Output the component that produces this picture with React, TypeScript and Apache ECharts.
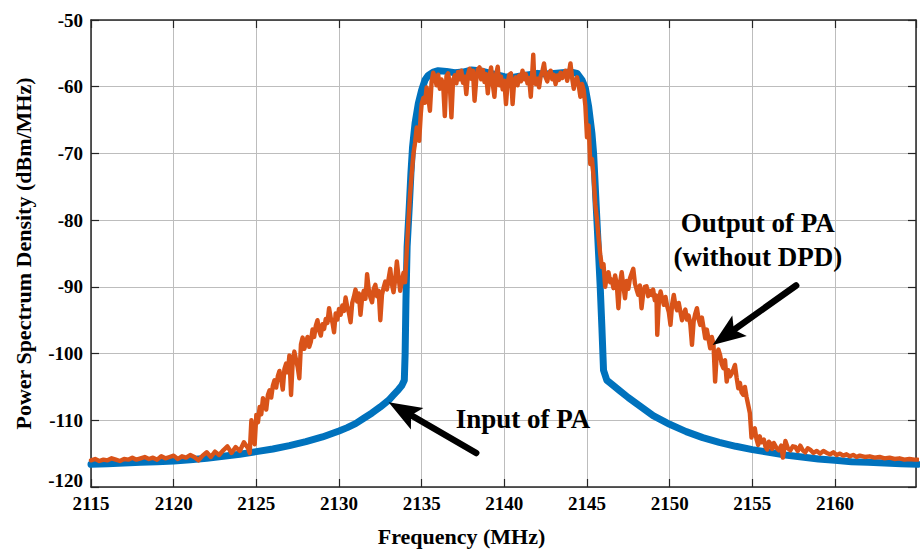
import React, { useEffect, useRef } from "react";
import * as echarts from "echarts";

const FONT = '"Liberation Serif", "Times New Roman", serif';

// Input of PA (blue) — frequency (MHz) and PSD (dBm/MHz)
const inputFreq = [
  2115, 2116, 2117, 2118, 2119, 2120, 2121, 2122, 2123, 2124, 2125, 2126, 2127, 2128, 2129, 2130,
  2130.5, 2131, 2131.5, 2132, 2132.5, 2133, 2133.3, 2133.6, 2133.8, 2133.95, 2134.0, 2134.05,
  2134.12, 2134.25, 2134.35, 2134.45, 2134.6, 2134.8, 2135.0, 2135.2, 2135.4, 2135.7, 2136,
  2136.5, 2137, 2137.5, 2138, 2138.5, 2139, 2139.5, 2140, 2140.5, 2141, 2141.5, 2142, 2142.5,
  2143, 2143.5, 2144, 2144.4, 2144.7, 2144.9, 2145.1, 2145.3, 2145.4, 2145.5, 2145.6, 2145.7,
  2145.8, 2145.9, 2146.0, 2146.2, 2146.5, 2147, 2147.5, 2148, 2149, 2150, 2151, 2152, 2153,
  2154, 2155, 2156, 2157, 2158, 2159, 2160, 2161, 2162, 2163, 2164, 2165,
];
const inputPsd = [
  -116.6, -116.5, -116.4, -116.3, -116.2, -116.1, -115.9, -115.7, -115.4, -115.1, -114.7, -114.3,
  -113.8, -113.2, -112.5, -111.6, -111.1, -110.5, -109.7, -108.9, -108.0, -107.0, -106.2, -105.4,
  -104.8, -104.0, -100, -92, -84, -78, -73, -69, -65.5, -62.5, -60.5, -59.0, -58.3, -57.8, -57.6,
  -57.7, -57.9, -57.8, -57.5, -57.6, -57.9, -58.2, -58.5, -58.6, -58.4, -58.2, -58.0, -58.1,
  -58.0, -57.9, -57.8, -58.0, -59.0, -60.2, -63, -67, -70, -75, -80, -85,
  -90, -96, -102.5, -104.0, -104.6, -105.6, -106.6, -107.5, -109.3, -110.6, -111.7, -112.6, -113.3,
  -113.9, -114.4, -114.8, -115.2, -115.5, -115.8, -116.0, -116.2, -116.3, -116.4, -116.5, -116.6,
];

// Output of PA without DPD (orange), as [frequency, PSD] pairs, by spectral region
const outputLowerFloor = [
  [2115.0, -116.0], [2115.25, -115.8], [2115.5, -116.1], [2115.75, -115.9], [2116.0, -116.0],
  [2116.25, -115.7], [2116.5, -115.9], [2116.75, -116.1], [2117.0, -115.8], [2117.25, -115.9],
  [2117.5, -115.6], [2117.75, -115.9], [2118.0, -115.7], [2118.25, -115.5], [2118.5, -115.8],
  [2118.75, -115.6], [2119.0, -115.9], [2119.25, -115.4], [2119.5, -115.7], [2119.75, -115.5],
  [2120.0, -115.3], [2120.25, -115.8], [2120.5, -115.4], [2120.75, -115.6], [2121.0, -115.2],
  [2121.25, -115.5], [2121.5, -116.0], [2121.75, -115.3], [2122.0, -114.8], [2122.25, -115.5],
  [2122.5, -114.7], [2122.75, -115.2], [2123.0, -114.5], [2123.25, -113.9], [2123.5, -114.9],
  [2123.75, -114.0], [2124.0, -114.6], [2124.25, -113.3], [2124.5, -114.2], [2124.6, -114.9],
];
const outputLowerShoulder = [
  [2124.7, -110.0], [2124.8, -112.5], [2124.9, -113.6], [2125.0, -109.2], [2125.1, -110.3],
  [2125.2, -108.0], [2125.3, -109.1], [2125.4, -106.7], [2125.5, -107.5], [2125.6, -108.4],
  [2125.7, -106.2], [2125.8, -105.5], [2125.9, -106.6], [2126.0, -104.8], [2126.1, -104.0],
  [2126.2, -105.1], [2126.3, -103.4], [2126.4, -102.6], [2126.5, -103.8], [2126.6, -105.4],
  [2126.7, -102.3], [2126.8, -101.5], [2126.9, -102.8], [2127.0, -100.3], [2127.1, -106.2],
  [2127.2, -101.2], [2127.3, -99.7], [2127.4, -100.9], [2127.5, -102.0], [2127.6, -103.7],
  [2127.7, -98.6], [2127.8, -97.6], [2127.9, -99.3], [2128.0, -98.4], [2128.1, -97.5],
  [2128.2, -99.0], [2128.3, -98.2], [2128.4, -96.4], [2128.5, -97.5], [2128.6, -95.8],
  [2128.7, -95.0], [2128.8, -96.6], [2128.9, -97.3], [2129.0, -95.6], [2129.1, -96.3],
  [2129.2, -94.8], [2129.3, -95.4], [2129.4, -93.2], [2129.5, -94.7], [2129.6, -95.3],
  [2129.7, -96.8], [2129.8, -94.0], [2129.9, -94.9], [2130.0, -93.3], [2130.1, -94.2],
  [2130.2, -92.8], [2130.3, -93.6], [2130.4, -91.6], [2130.5, -93.0], [2130.6, -93.9],
  [2130.7, -95.3], [2130.8, -92.4], [2130.9, -91.5], [2131.0, -90.4], [2131.1, -92.2],
  [2131.2, -91.0], [2131.3, -94.2], [2131.4, -91.6], [2131.5, -90.6], [2131.6, -91.8],
  [2131.7, -88.1], [2131.8, -90.4], [2131.9, -91.6], [2132.0, -92.3], [2132.1, -90.3],
  [2132.2, -89.7], [2132.3, -91.4], [2132.4, -90.6], [2132.5, -95.0], [2132.6, -91.2],
  [2132.7, -90.1], [2132.8, -89.2], [2132.9, -90.4], [2133.0, -88.8], [2133.1, -87.3],
  [2133.2, -89.6], [2133.3, -90.8], [2133.4, -88.9], [2133.5, -86.2], [2133.6, -88.5],
  [2133.7, -90.6], [2133.8, -89.2], [2133.9, -87.9], [2134.0, -89.3],
];
const outputBand = [
  [2134.1, -84.5], [2134.2, -80.1], [2134.3, -76.1], [2134.4, -73.0], [2134.5, -70.1],
  [2134.6, -68.4], [2134.7, -66.1], [2134.8, -67.2], [2134.85, -68.1], [2134.95, -64.0],
  [2135.0, -62.6], [2135.1, -61.7], [2135.2, -62.4], [2135.3, -60.1], [2135.4, -61.5],
  [2135.5, -63.6], [2135.6, -59.3], [2135.7, -57.9], [2135.8, -58.6], [2135.9, -59.8],
  [2136.0, -58.2], [2136.1, -60.3], [2136.2, -58.9], [2136.3, -59.7], [2136.4, -64.4],
  [2136.5, -58.4], [2136.6, -58.0], [2136.7, -59.6], [2136.8, -64.6], [2136.9, -59.0],
  [2137.0, -58.3], [2137.1, -59.5], [2137.2, -57.8], [2137.3, -58.9], [2137.4, -57.6],
  [2137.5, -59.4], [2137.6, -58.5], [2137.7, -61.1], [2137.8, -58.2], [2137.9, -57.3],
  [2138.0, -58.8], [2138.1, -57.6], [2138.2, -62.1], [2138.3, -59.0], [2138.4, -57.4],
  [2138.5, -57.1], [2138.6, -58.9], [2138.7, -57.5], [2138.8, -59.3], [2138.9, -58.1],
  [2139.0, -61.0], [2139.1, -58.4], [2139.2, -57.1], [2139.3, -59.6], [2139.4, -61.5],
  [2139.5, -58.2], [2139.6, -57.0], [2139.7, -59.8], [2139.8, -58.5], [2139.9, -60.4],
  [2140.0, -59.1], [2140.1, -62.6], [2140.2, -59.4], [2140.3, -58.2], [2140.4, -58.0],
  [2140.5, -62.6], [2140.6, -59.1], [2140.7, -58.6], [2140.8, -59.8], [2140.9, -58.3],
  [2141.0, -59.2], [2141.1, -57.6], [2141.2, -58.9], [2141.3, -58.1], [2141.4, -59.5],
  [2141.5, -58.7], [2141.6, -61.5], [2141.7, -57.4], [2141.75, -55.2], [2141.8, -58.3],
  [2141.9, -59.6], [2142.0, -58.8], [2142.1, -60.1], [2142.2, -58.4], [2142.3, -57.7],
  [2142.4, -56.5], [2142.5, -58.6], [2142.6, -59.2], [2142.7, -58.0], [2142.8, -57.6],
  [2142.9, -58.9], [2143.0, -58.2], [2143.1, -59.6], [2143.2, -58.3], [2143.3, -59.0],
  [2143.4, -57.9], [2143.5, -58.7], [2143.6, -58.1], [2143.7, -57.6], [2143.8, -59.1],
  [2143.9, -58.0], [2144.0, -56.5], [2144.1, -58.7], [2144.2, -60.3], [2144.3, -59.0],
  [2144.4, -58.6], [2144.5, -59.8], [2144.6, -61.5], [2144.7, -59.6], [2144.8, -60.5],
  [2144.9, -62.8], [2145.0, -67.6], [2145.1, -65.8], [2145.2, -71.6], [2145.3, -70.8],
  [2145.4, -73.5], [2145.5, -77.6], [2145.6, -79.8], [2145.7, -82.6], [2145.8, -85.1],
  [2145.9, -87.0], [2146.0, -86.6], [2146.1, -90.0],
];
const outputUpperShoulder = [
  [2146.2, -88.4], [2146.3, -87.8], [2146.4, -89.3], [2146.5, -88.9], [2146.6, -90.2],
  [2146.7, -88.3], [2146.8, -89.6], [2146.9, -93.2], [2147.0, -89.4], [2147.1, -87.8],
  [2147.2, -89.9], [2147.3, -91.7], [2147.4, -89.1], [2147.5, -90.3], [2147.6, -88.7],
  [2147.7, -88.0], [2147.8, -87.3], [2147.9, -89.5], [2148.0, -90.4], [2148.1, -91.2],
  [2148.2, -89.8], [2148.3, -93.2], [2148.4, -91.0], [2148.5, -90.0], [2148.6, -89.9],
  [2148.7, -91.4], [2148.8, -90.6], [2148.9, -91.2], [2149.0, -90.4], [2149.1, -92.0],
  [2149.2, -91.3], [2149.25, -97.2], [2149.35, -92.1], [2149.45, -90.7], [2149.55, -91.8],
  [2149.65, -92.7], [2149.75, -91.5], [2149.85, -92.9], [2149.95, -93.8], [2150.05, -95.7],
  [2150.15, -92.6], [2150.25, -91.2], [2150.35, -92.8], [2150.45, -93.5], [2150.55, -92.4],
  [2150.65, -93.7], [2150.75, -95.0], [2150.85, -94.1], [2150.95, -93.4], [2151.05, -94.9],
  [2151.15, -94.3], [2151.25, -95.6], [2151.35, -98.7], [2151.45, -95.2], [2151.55, -94.0],
  [2151.65, -93.2], [2151.75, -94.8], [2151.85, -95.7], [2151.95, -94.6], [2152.05, -96.1],
  [2152.15, -97.7], [2152.25, -96.4], [2152.35, -97.8], [2152.45, -99.2], [2152.55, -97.5],
  [2152.65, -98.6], [2152.75, -104.2], [2152.85, -100.1], [2152.95, -99.4], [2153.05, -100.2],
  [2153.15, -101.6], [2153.25, -102.2], [2153.35, -101.0], [2153.45, -104.2], [2153.55, -102.5],
  [2153.65, -103.4], [2153.75, -103.0], [2153.85, -102.4], [2153.95, -101.7], [2154.05, -103.6],
  [2154.15, -105.2], [2154.25, -104.4], [2154.35, -105.8], [2154.45, -106.2], [2154.55, -105.0],
  [2154.65, -106.5], [2154.75, -107.7], [2154.85, -108.9], [2154.95, -112.6], [2155.05, -111.4],
  [2155.15, -111.2], [2155.25, -112.8], [2155.35, -113.7], [2155.45, -112.4], [2155.55, -113.3],
];
const outputUpperFloor = [
  [2155.7, -112.9], [2155.8, -114.0], [2155.9, -114.4], [2156.0, -113.2], [2156.1, -113.5],
  [2156.2, -114.3], [2156.3, -113.4], [2156.45, -114.1], [2156.6, -114.5], [2156.75, -113.8],
  [2156.85, -115.6], [2157.0, -113.1], [2157.15, -114.2], [2157.3, -114.5], [2157.45, -113.9],
  [2157.6, -114.0], [2157.75, -114.6], [2157.9, -113.8], [2158.05, -114.5], [2158.2, -114.8],
  [2158.35, -114.2], [2158.5, -114.4], [2158.7, -114.9], [2158.9, -114.6], [2159.1, -115.0],
  [2159.3, -114.6], [2159.5, -114.9], [2159.7, -115.1], [2159.9, -114.8], [2160.1, -115.2],
  [2160.3, -115.0], [2160.5, -115.3], [2160.7, -115.1], [2160.9, -115.4], [2161.1, -115.2],
  [2161.3, -115.5], [2161.5, -115.3], [2161.8, -115.5], [2162.1, -115.4], [2162.4, -115.6],
  [2162.7, -115.5], [2163.0, -115.7], [2163.3, -115.6], [2163.6, -115.8], [2163.9, -115.7],
  [2164.2, -115.9], [2164.5, -115.8], [2164.8, -115.9], [2165.0, -115.9],
];

// Annotation anchors (data coordinates)
const inputLabel = { text: "Input of PA", at: [2141.13, -109.8] };
const outputLabel = { lines: ["Output of PA", "(without DPD)"], at: [[2155.33, -80.4], [2155.33, -85.5]] };
const inputArrow = { tail: [2138.3, -114.9], tip: [2133.0, -107.3] };
const outputArrow = { tail: [2157.65, -89.8], tip: [2152.6, -98.7] };

export default function App() {
  const ref = useRef<HTMLDivElement>(null);

  useEffect(() => {
    if (!ref.current) return;
    const chart = echarts.init(ref.current, undefined, { renderer: "svg" });

    const axisLine = { show: true, onZero: false, lineStyle: { color: "#262626", width: 1.5 } };
    const axisTick = { show: true, inside: true, length: 8, lineStyle: { color: "#262626", width: 1.2 } };
    const labelFont = { color: "#000", fontFamily: FONT, fontWeight: "bold" as const, fontSize: 19 };
    const nameFont = { color: "#000", fontFamily: FONT, fontWeight: "bold" as const, fontSize: 22 };
    const split = { show: true, lineStyle: { color: "#bdbdbd", width: 1 } };

    const outputData = [
      ...outputLowerFloor,
      ...outputLowerShoulder,
      ...outputBand,
      ...outputUpperShoulder,
      ...outputUpperFloor,
    ];

    const option: any = {
      animation: false,
      backgroundColor: "#fff",
      grid: { left: 91, right: 6, top: 20, bottom: 63, containLabel: false },
      xAxis: [
        {
          type: "value", position: "bottom", min: 2115, max: 2164.9, interval: 5,
          axisLine, axisTick, splitLine: split,
          axisLabel: {
            ...labelFont, margin: 7, showMaxLabel: false,
            formatter: (v: number) => (Math.abs(v % 5) < 1e-6 ? String(v) : ""),
          },
          name: "Frequency (MHz)", nameLocation: "middle", nameGap: 38,
          nameTextStyle: { ...nameFont, padding: [0, 84, 0, 0] },
        },
        {
          type: "value", position: "top", min: 2115, max: 2164.9, interval: 5,
          axisLine, axisTick, splitLine: { show: false }, axisLabel: { show: false },
        },
      ],
      yAxis: [
        {
          type: "value", position: "left", min: -120, max: -50, interval: 10,
          axisLine, axisTick, splitLine: split,
          axisLabel: {
            ...labelFont, margin: 8,
            formatter: (v: number) => (v === -120 ? `{low|${v}}` : String(v)),
            rich: { low: { ...labelFont, padding: [0, 0, 14, 0] } },
          },
          name: "Power Spectrum Density (dBm/MHz)", nameLocation: "middle", nameGap: 57,
          nameTextStyle: nameFont,
        },
        {
          type: "value", position: "right", min: -120, max: -50, interval: 10,
          axisLine, axisTick, splitLine: { show: false }, axisLabel: { show: false },
        },
      ],
      series: [
        {
          name: "Input of PA", type: "line", xAxisIndex: 0, yAxisIndex: 0,
          data: inputFreq.map((f, i) => [f, inputPsd[i]]),
          symbol: "none", showSymbol: false, silent: true,
          lineStyle: { color: "#0072BD", width: 7, cap: "round", join: "round" },
          z: 2,
        },
        {
          name: "Output of PA (without DPD)", type: "line", xAxisIndex: 0, yAxisIndex: 0,
          data: outputData,
          symbol: "none", showSymbol: false, silent: true,
          lineStyle: { color: "#D95319", width: 4.4, cap: "round", join: "round" },
          z: 3,
        },
      ],
    };
    chart.setOption(option);

    const toPx = (p: number[]) => chart.convertToPixel({ gridIndex: 0 }, p) as number[];
    const arrow = (tailD: number[], tipD: number[]) => {
      const tail = toPx(tailD);
      const tip = toPx(tipD);
      const dx = tip[0] - tail[0], dy = tip[1] - tail[1];
      const len = Math.hypot(dx, dy);
      const ux = dx / len, uy = dy / len, nx = -uy, ny = ux;
      const L = 33, W = 12.5, N = 7;
      const bx = tip[0] - ux * L, by = tip[1] - uy * L;
      const notch = [tip[0] - ux * (L - N), tip[1] - uy * (L - N)];
      return [
        {
          type: "line", z: 100,
          shape: { x1: tail[0], y1: tail[1], x2: notch[0], y2: notch[1] },
          style: { stroke: "#000", lineWidth: 6.5, lineCap: "round" },
        },
        {
          type: "polygon", z: 101,
          shape: { points: [tip, [bx + nx * W, by + ny * W], notch, [bx - nx * W, by - ny * W]] },
          style: { fill: "#000" },
        },
      ];
    };
    const textEl = (text: string, at: number[]) => {
      const p = toPx(at);
      return {
        type: "text", x: p[0], y: p[1], z: 102,
        style: {
          text, fill: "#000", font: `bold 27px ${FONT}`,
          align: "center", verticalAlign: "middle",
          textAlign: "center", textVerticalAlign: "middle",
        },
      };
    };

    chart.setOption({
      graphic: [
        ...arrow(inputArrow.tail, inputArrow.tip),
        ...arrow(outputArrow.tail, outputArrow.tip),
        textEl(inputLabel.text, inputLabel.at),
        textEl(outputLabel.lines[0], outputLabel.at[0]),
        textEl(outputLabel.lines[1], outputLabel.at[1]),
      ],
    });

    return () => chart.dispose();
  }, []);

  return (
    <div
      ref={ref}
      style={{ position: "fixed", left: 0, top: 0, width: 922, height: 552, background: "#fff" }}
    />
  );
}
